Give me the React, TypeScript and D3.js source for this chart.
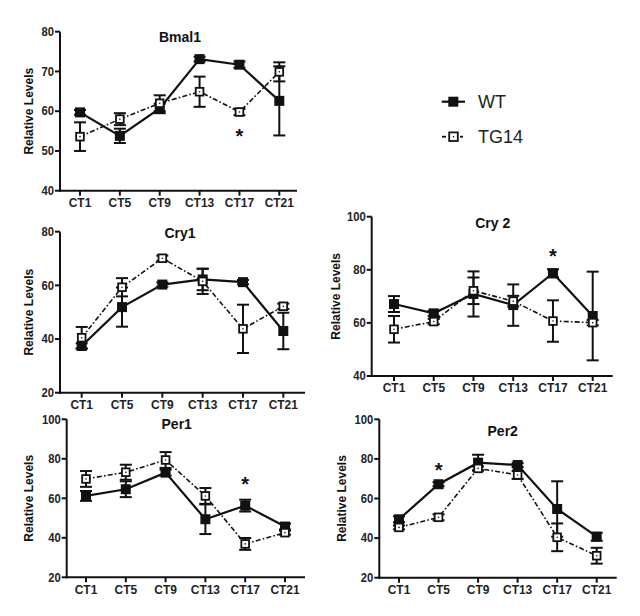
import React from "react";
import * as d3 from "d3";

const categories = ["CT1", "CT5", "CT9", "CT13", "CT17", "CT21"];

const bmal1WT = [59.7, 53.8, 60.7, 73.1, 71.7, 62.6];
const bmal1WTErr = [0.6, 1.8, 1.2, 0.6, 0.8, 8.7];
const bmal1TG = [53.6, 58.0, 62.0, 64.9, 59.8, 69.9];
const bmal1TGErr = [3.6, 1.5, 2.0, 3.8, 0.8, 2.4];

const cry1WT = [37.4, 51.9, 60.3, 62.2, 61.2, 43.0];
const cry1WTErr = [1.0, 7.3, 0.8, 4.0, 0.8, 6.8];
const cry1TG = [40.5, 59.3, 70.1, 61.5, 43.8, 52.2];
const cry1TGErr = [4.0, 3.4, 1.0, 4.7, 9.0, 1.0];

const cry2WT = [67.1, 63.6, 70.9, 66.7, 78.7, 62.6];
const cry2WTErr = [3.0, 1.0, 8.5, 7.8, 1.5, 16.7];
const cry2TG = [57.6, 60.5, 72.1, 68.2, 60.7, 60.1];
const cry2TGErr = [5.0, 1.0, 5.0, 2.0, 7.8, 1.0];

const per1WT = [61.2, 64.6, 73.0, 49.4, 56.3, 45.7];
const per1WTErr = [2.5, 4.0, 1.5, 7.5, 3.0, 1.5];
const per1TG = [69.8, 73.2, 79.4, 61.2, 36.9, 42.6];
const per1TGErr = [4.0, 3.8, 4.0, 4.0, 3.0, 1.0];

const per2WT = [49.5, 67.2, 78.1, 76.9, 54.7, 40.7];
const per2WTErr = [1.5, 1.0, 4.0, 1.0, 14.0, 2.0];
const per2TG = [45.4, 50.5, 75.2, 71.9, 40.4, 31.1];
const per2TGErr = [1.0, 1.5, 1.0, 2.0, 7.0, 4.0];

const seriesNames = ["WT", "TG14"];

const panels = [
  {
    title: "Bmal1", wt: bmal1WT, wtErr: bmal1WTErr, tg: bmal1TG, tgErr: bmal1TGErr,
    yDomain: [40, 80], yTicks: [40, 50, 60, 70, 80], star: { i: 4, v: 54.4 },
    axisX: 60, axisEnd: 297, yTop: 31.7, yBottom: 190.7, firstX: 80, lastX: 279.3,
    titleX: 180, titleY: 36.7, labelX: 29, tickLabelY: 203,
  },
  {
    title: "Cry1", wt: cry1WT, wtErr: cry1WTErr, tg: cry1TG, tgErr: cry1TGErr,
    yDomain: [20, 80], yTicks: [20, 40, 60, 80], star: null,
    axisX: 60, axisEnd: 305, yTop: 231.7, yBottom: 392.7, firstX: 81.7, lastX: 283.3,
    titleX: 180, titleY: 233, labelX: 29, tickLabelY: 405,
  },
  {
    title: "Cry 2", wt: cry2WT, wtErr: cry2WTErr, tg: cry2TG, tgErr: cry2TGErr,
    yDomain: [40, 100], yTicks: [40, 60, 80, 100], star: { i: 4, v: 86.2 },
    axisX: 371.7, axisEnd: 612.7, yTop: 216.7, yBottom: 376, firstX: 394, lastX: 592.7,
    titleX: 492.7, titleY: 223.3, labelX: 336, tickLabelY: 388.3,
  },
  {
    title: "Per1", wt: per1WT, wtErr: per1WTErr, tg: per1TG, tgErr: per1TGErr,
    yDomain: [20, 100], yTicks: [20, 40, 60, 80, 100], star: { i: 4, v: 68.9 },
    axisX: 66.7, axisEnd: 305, yTop: 419.3, yBottom: 577.3, firstX: 86, lastX: 285,
    titleX: 176.7, titleY: 424, labelX: 29, tickLabelY: 590,
  },
  {
    title: "Per2", wt: per2WT, wtErr: per2WTErr, tg: per2TG, tgErr: per2TGErr,
    yDomain: [20, 100], yTicks: [20, 40, 60, 80, 100], star: { i: 1, v: 76.1 },
    axisX: 379.3, axisEnd: 616.7, yTop: 419.3, yBottom: 577.7, firstX: 399, lastX: 596.7,
    titleX: 502.7, titleY: 430.7, labelX: 341.7, tickLabelY: 590,
  },
];

const FONT = "'Liberation Sans', Arial, sans-serif";
const INK = "#111";

function Series({ x, y, vals, errs, filled }: any) {
  const line = d3.line<number>().x((_, i) => x(categories[i])!).y((d) => y(d));
  const s = filled ? 10 : 9.5;
  return (
    <g>
      <path d={line(vals) || ""} fill="none" stroke={INK} strokeWidth={filled ? 2.2 : 1.6}
        strokeDasharray={filled ? undefined : "5,2.2,1.6,2.2"} />
      {vals.map((v: number, i: number) => {
        const cx = x(categories[i])!;
        const y1 = y(v + errs[i]);
        const y2 = y(v - errs[i]);
        return (
          <g key={"e" + i} stroke={INK} strokeWidth={2}>
            <line x1={cx} x2={cx} y1={y1} y2={y2} />
            <line x1={cx - 6} x2={cx + 6} y1={y1} y2={y1} />
            <line x1={cx - 6} x2={cx + 6} y1={y2} y2={y2} />
          </g>
        );
      })}
      {vals.map((v: number, i: number) => {
        const cx = x(categories[i])!;
        const cy = y(v);
        return filled ? (
          <rect key={"m" + i} x={cx - s / 2} y={cy - s / 2} width={s} height={s} fill={INK} />
        ) : (
          <g key={"m" + i}>
            <rect x={cx - s / 2 + 0.9} y={cy - s / 2 + 0.9} width={s - 1.8} height={s - 1.8}
              fill="#fff" stroke={INK} strokeWidth={1.8} />
            <circle cx={cx} cy={cy} r={0.8} fill={INK} />
          </g>
        );
      })}
    </g>
  );
}

function Panel({ p }: any) {
  const y = d3.scaleLinear().domain(p.yDomain).range([p.yBottom, p.yTop]);
  const x = d3.scalePoint<string>().domain(categories).range([p.firstX, p.lastX]);
  const midY = (p.yTop + p.yBottom) / 2;
  return (
    <g fontFamily={FONT}>
      <text x={p.titleX} y={p.titleY} textAnchor="middle" dominantBaseline="central"
        fontSize={14} fontWeight="bold" fill={INK}>{p.title}</text>
      <text transform={`translate(${p.labelX},${midY}) rotate(-90)`} textAnchor="middle"
        dominantBaseline="central" fontSize={12} fontWeight="bold" fill={INK}>Relative Levels</text>
      <line x1={p.axisX} x2={p.axisX} y1={p.yTop} y2={p.yBottom + 1} stroke={INK} strokeWidth={2} />
      <line x1={p.axisX - 1} x2={p.axisEnd} y1={p.yBottom} y2={p.yBottom} stroke={INK} strokeWidth={2} />
      {p.yTicks.map((t: number) => (
        <g key={"yt" + t}>
          <line x1={p.axisX - 5} x2={p.axisX} y1={y(t)} y2={y(t)} stroke={INK} strokeWidth={2} />
          <text transform={`translate(${p.axisX - 6},${y(t)}) scale(0.9,1)`} textAnchor="end"
            dominantBaseline="central" fontSize={12.5} fontWeight="bold" fill="#222">{t}</text>
        </g>
      ))}
      {categories.map((c) => (
        <g key={"xt" + c}>
          <line x1={x(c)} x2={x(c)} y1={p.yBottom} y2={p.yBottom + 5} stroke={INK} strokeWidth={2} />
          <text transform={`translate(${x(c)},${p.tickLabelY}) scale(0.92,1)`} textAnchor="middle"
            dominantBaseline="central" fontSize={13} fontWeight="bold" fill="#222">{c}</text>
        </g>
      ))}
      <Series x={x} y={y} vals={p.wt} errs={p.wtErr} filled={true} />
      <Series x={x} y={y} vals={p.tg} errs={p.tgErr} filled={false} />
      {p.star && (
        <text x={x(categories[p.star.i])} y={y(p.star.v) + 10} textAnchor="middle"
          fontSize={20} fontWeight="bold" fill={INK}>*</text>
      )}
    </g>
  );
}

export default function App() {
  return (
    <svg width={640} height={616} viewBox="0 0 640 616"
      style={{ position: "absolute", left: 0, top: 0, background: "#fff" }}>
      <rect width={640} height={616} fill="#fff" />
      {panels.map((p) => <Panel key={p.title} p={p} />)}
      <g fontFamily={FONT}>
        <line x1={441.7} x2={465} y1={101.7} y2={101.7} stroke={INK} strokeWidth={2.2} />
        <rect x={448.3} y={96.7} width={10} height={10} fill={INK} />
        <text x={478} y={101.7} dominantBaseline="central" fontSize={18} fill="#222">{seriesNames[0]}</text>
        <line x1={442} x2={446} y1={136.7} y2={136.7} stroke={INK} strokeWidth={1.8} />
        <line x1={460} x2={463} y1={136.7} y2={136.7} stroke={INK} strokeWidth={1.8} />
        <rect x={449.2} y={132.4} width={8.6} height={8.6} fill="#fff" stroke={INK} strokeWidth={1.8} />
        <circle cx={453.5} cy={136.7} r={0.8} fill={INK} />
        <text x={478} y={136.7} dominantBaseline="central" fontSize={18} fill="#222">{seriesNames[1]}</text>
      </g>
    </svg>
  );
}
